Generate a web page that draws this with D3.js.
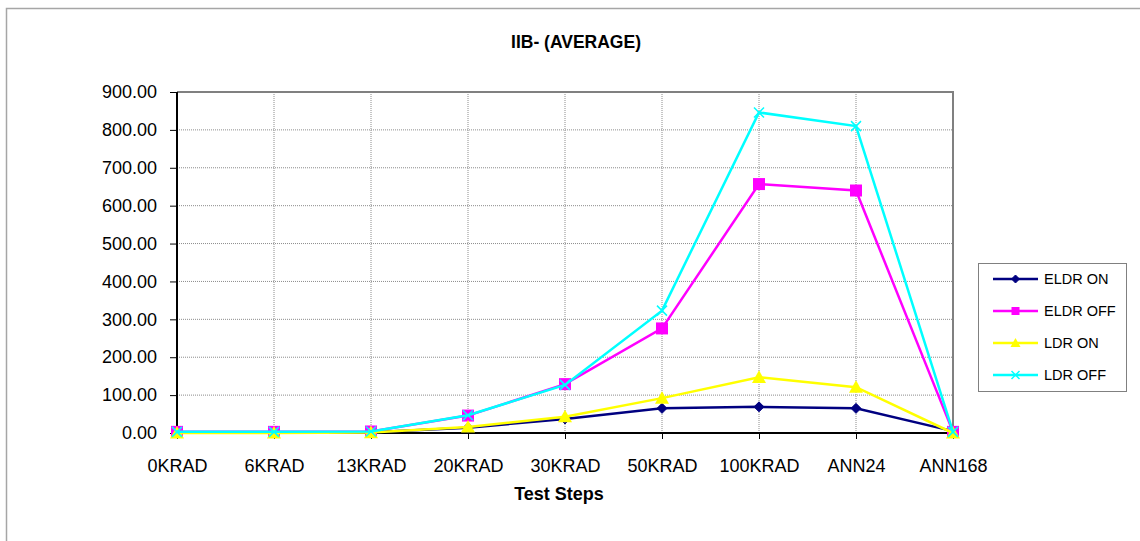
<!DOCTYPE html>
<html><head><meta charset="utf-8">
<script src="https://cdn.jsdelivr.net/npm/d3@7"></script>
<style>body{margin:0;background:#fff}svg{display:block;font-family:Arial,"Liberation Sans",sans-serif}</style>
</head><body>
<svg id="c" width="1140" height="541"></svg>
<script>
const categories = ["0KRAD","6KRAD","13KRAD","20KRAD","30KRAD","50KRAD","100KRAD","ANN24","ANN168"];
const eldrOn  = [1, 1, 2, 14, 37, 65, 69, 65, 5];
const eldrOff = [3, 3, 4, 46, 129, 276, 657, 640, 3];
const ldrOn   = [0, 0, 1, 16, 43, 92, 147, 121, 0];
const ldrOff  = [3, 3, 4, 47, 127, 323, 846, 810, 3];
const yTicks  = [0,100,200,300,400,500,600,700,800,900];
const seriesNames = ["ELDR ON","ELDR OFF","LDR ON","LDR OFF"];

const series = [
  {name: seriesNames[0], values: eldrOn,  color: "#000080", marker: "diamond"},
  {name: seriesNames[1], values: eldrOff, color: "#FF00FF", marker: "square"},
  {name: seriesNames[2], values: ldrOn,   color: "#FFFF00", marker: "triangle"},
  {name: seriesNames[3], values: ldrOff,  color: "#00FFFF", marker: "x"}
];

const svg = d3.select("#c");
svg.append("path").attr("d","M6.5,541 V8.5 H1140").attr("fill","none").attr("stroke","#a6a6a6").attr("stroke-width",1.5);

const L=177, R=953, T=92, B=433;
const x = d3.scalePoint().domain(categories).range([L,R]);
const y = d3.scaleLinear().domain([0,900]).range([B,T]);

const g = svg.append("g");
g.selectAll(".hg").data(yTicks.slice(1)).join("line")
  .attr("x1",L).attr("x2",R).attr("y1",d=>y(d)).attr("y2",d=>y(d))
  .attr("stroke","#8c8c8c").attr("stroke-width",1).attr("stroke-dasharray","1,1");
g.selectAll(".vg").data(categories.slice(1)).join("line")
  .attr("x1",d=>x(d)).attr("x2",d=>x(d)).attr("y1",T).attr("y2",B)
  .attr("stroke","#8c8c8c").attr("stroke-width",1).attr("stroke-dasharray","1,1");
svg.append("path").attr("d",`M${L},${T} H${R} V${B}`).attr("fill","none").attr("stroke","#808080").attr("stroke-width",2);

const yAxis = d3.axisLeft(y).tickValues(yTicks).tickFormat(d3.format(".2f")).tickSize(7).tickPadding(13);
const ya = svg.append("g").attr("transform",`translate(${L},0)`).call(yAxis);
const xAxis = d3.axisBottom(x).tickSize(6).tickPadding(20);
const xa = svg.append("g").attr("transform",`translate(0,${B})`).call(xAxis);
[ya,xa].forEach(a=>{
  a.select(".domain").attr("stroke","#000").attr("stroke-width",2);
  a.selectAll(".tick line").attr("stroke","#000");
  a.selectAll("text").attr("font-size",18).attr("fill","#000").attr("font-family","Arial, 'Liberation Sans', sans-serif");
});
ya.select(".domain").attr("d",`M0,${T}V${B}`);
xa.select(".domain").attr("d",`M${L},0H${R}`);

function marker(sel, type, color, s){
  if(type==="diamond"){
    sel.append("path").attr("d",`M0,${-s}L${s},0L0,${s}L${-s},0Z`).attr("fill",color).attr("stroke",color);
  } else if(type==="square"){
    sel.append("rect").attr("x",-s).attr("y",-s).attr("width",2*s).attr("height",2*s).attr("fill",color);
  } else if(type==="triangle"){
    sel.append("path").attr("d",`M0,${-s}L${s},${s*0.8}L${-s},${s*0.8}Z`).attr("fill",color);
  } else {
    sel.append("path").attr("d",`M${-s},${-s}L${s},${s}M${-s},${s}L${s},${-s}`).attr("stroke",color).attr("stroke-width",1.5);
  }
}
const sizes = {diamond:5, square:6, triangle:7, x:5};
const line = d3.line().x((d,i)=>x(categories[i])).y(d=>y(d));
series.forEach(s=>{
  const sg = svg.append("g");
  sg.append("path").attr("d",line(s.values)).attr("fill","none").attr("stroke",s.color).attr("stroke-width",2.5);
  s.values.forEach((v,i)=>{
    const m = sg.append("g").attr("transform",`translate(${x(categories[i])},${y(v)})`);
    marker(m, s.marker, s.color, sizes[s.marker]);
  });
});

svg.append("text").attr("x",576).attr("y",48).attr("text-anchor","middle").attr("font-size",17.5).attr("font-weight","bold").text("IIB- (AVERAGE)");
svg.append("text").attr("x",559).attr("y",500).attr("text-anchor","middle").attr("font-size",18).attr("font-weight","bold").text("Test Steps");

const lg = svg.append("g");
lg.append("rect").attr("x",978.5).attr("y",263.5).attr("width",148).attr("height",128).attr("fill","#fff").attr("stroke","#808080");
series.forEach((s,i)=>{
  const yy = 279 + i*32;
  lg.append("line").attr("x1",993).attr("x2",1038).attr("y1",yy).attr("y2",yy).attr("stroke",s.color).attr("stroke-width",2.5);
  const m = lg.append("g").attr("transform",`translate(1015.5,${yy})`);
  marker(m, s.marker, s.color, s.marker==="square"?4:(s.marker==="triangle"?5:4));
  lg.append("text").attr("x",1044).attr("y",yy+5).attr("font-size",14.5).text(s.name);
});
</script>
</body></html>
